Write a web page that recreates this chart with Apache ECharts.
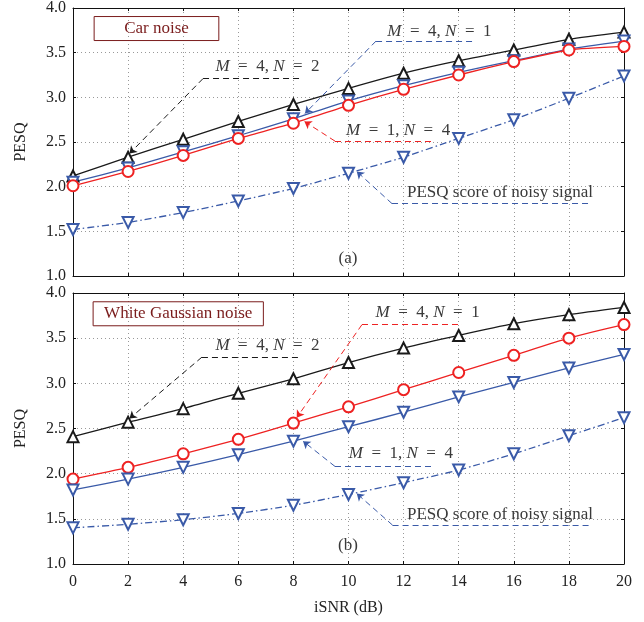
<!DOCTYPE html>
<html>
<head>
<meta charset="utf-8">
<script src="https://cdn.jsdelivr.net/npm/echarts@6/dist/echarts.min.js"></script>
<style>
  html, body { margin: 0; padding: 0; background: #fff; }
  #chart { width: 644px; height: 622px; }
</style>
</head>
<body>
<div id="chart"></div>
<script>
// iSNR values (dB)
const snr = [0, 2, 4, 6, 8, 10, 12, 14, 16, 18, 20];

// (a) car noise
const carM4N2 = [2.12, 2.33, 2.53, 2.73, 2.92, 3.10, 3.27, 3.41, 3.53, 3.65, 3.73];
const carM4N1 = [2.05, 2.21, 2.39, 2.57, 2.76, 2.96, 3.13, 3.28, 3.41, 3.54, 3.63];
const carM1N4 = [2.01, 2.17, 2.35, 2.54, 2.71, 2.91, 3.09, 3.25, 3.40, 3.53, 3.57];
const carNoisy = [1.52, 1.60, 1.71, 1.84, 1.98, 2.15, 2.33, 2.54, 2.75, 2.99, 3.24];

// (b) white Gaussian noise
const wgnM4N2 = [2.41, 2.57, 2.72, 2.89, 3.05, 3.23, 3.39, 3.53, 3.66, 3.76, 3.84];
const wgnM4N1 = [1.94, 2.07, 2.22, 2.38, 2.56, 2.74, 2.93, 3.12, 3.31, 3.50, 3.65];
const wgnM1N4 = [1.82, 1.94, 2.07, 2.21, 2.36, 2.52, 2.68, 2.85, 3.01, 3.17, 3.32];
const wgnNoisy = [1.40, 1.44, 1.49, 1.56, 1.65, 1.77, 1.90, 2.04, 2.22, 2.42, 2.62];

const xTicks = [0, 2, 4, 6, 8, 10, 12, 14, 16, 18, 20];
const yTicks = [1.0, 1.5, 2.0, 2.5, 3.0, 3.5, 4.0];

const BLACK = '#1a1a1a';
const RED = '#ee2222';
const BLUE = '#3a5aa8';
const TEXT = '#3a3a3a';
const BOX = '#7a1c1c';
const FONT = 'Liberation Serif';

const chart = echarts.init(document.getElementById('chart'));

function pairs(ys) {
    return snr.map(function (x, i) { return [x, ys[i]]; });
}

function mathLabel(m, n) {
    return '{i|M}\u2002=\u2002' + m + ', {i|N}\u2002=\u2002' + n;
}

// leader line: tip (near curve) -> elbow -> end, text above the horizontal part
function leader(color, tip, elbow, end, textPos, text) {
    return {
        lines: [
            [{ coord: elbow, symbol: 'none' }, { coord: tip, symbol: 'arrow' }],
            [{ coord: elbow, symbol: 'none' }, { coord: end, symbol: 'none' }]
        ],
        color: color,
        point: {
            coord: textPos,
            label: {
                show: true,
                position: 'inside',
                formatter: text,
                color: TEXT,
                fontFamily: FONT,
                fontSize: 17,
                rich: { i: { fontStyle: 'italic', fontFamily: FONT, fontSize: 17, color: TEXT } }
            }
        }
    };
}

function boxLabel(coord, text, padX) {
    return {
        coord: coord,
        label: {
            show: true,
            position: 'inside',
            formatter: text,
            color: BOX,
            fontFamily: FONT,
            fontSize: 17,
            borderColor: BOX,
            borderWidth: 1,
            padding: [4, padX, 3, padX]
        }
    };
}

function plainLabel(coord, text) {
    return {
        coord: coord,
        label: {
            show: true,
            position: 'inside',
            formatter: text,
            color: TEXT,
            fontFamily: FONT,
            fontSize: 17
        }
    };
}

function curve(g, name, ys, color, symbol, rotate, dash, ann, extraPoints) {
    const s = {
        name: name,
        type: 'line',
        xAxisIndex: g * 2,
        yAxisIndex: g * 2,
        data: pairs(ys),
        smooth: 0.2,
        symbol: symbol,
        symbolRotate: rotate,
        symbolSize: 11,
        z: 3,
        lineStyle: { color: color, width: 1.3, type: dash },
        itemStyle: { color: color, borderColor: color, borderWidth: 0.9 },
        silent: true
    };
    const lines = [];
    const points = [];
    if (ann) {
        ann.lines.forEach(function (l) { lines.push(l); });
        points.push(ann.point);
    }
    (extraPoints || []).forEach(function (p) { points.push(p); });
    if (lines.length) {
        s.markLine = {
            silent: true,
            symbolSize: 7,
            label: { show: false },
            lineStyle: { color: ann.color, type: [6, 4], width: 1 },
            data: lines
        };
    }
    if (points.length) {
        s.markPoint = {
            silent: true,
            symbol: 'circle',
            symbolSize: 0,
            data: points
        };
    }
    return s;
}

function xAxes(g) {
    const base = {
        type: 'value', gridIndex: g, min: 0, max: 20, interval: 2,
        axisLine: { show: true, onZero: false, lineStyle: { color: '#111', width: 1 } },
        axisTick: { show: true, inside: true, length: 3, lineStyle: { color: '#111' } }
    };
    const bottom = Object.assign({}, base, {
        position: 'bottom',
        splitLine: { show: true, lineStyle: { color: '#999', type: [1, 3], width: 1 } },
        axisLabel: { show: g === 1, color: '#222', fontFamily: FONT, fontSize: 16, margin: 10 },
        name: g === 1 ? 'iSNR (dB)' : '',
        nameLocation: 'middle',
        nameGap: 36,
        nameTextStyle: { color: '#222', fontFamily: FONT, fontSize: 16 }
    });
    const top = Object.assign({}, base, {
        position: 'top',
        splitLine: { show: false },
        axisLabel: { show: false }
    });
    return [bottom, top];
}

function yAxes(g) {
    const base = {
        type: 'value', gridIndex: g, min: 1, max: 4, interval: 0.5,
        axisLine: { show: true, onZero: false, lineStyle: { color: '#111', width: 1 } },
        axisTick: { show: true, inside: true, length: 3, lineStyle: { color: '#111' } }
    };
    const left = Object.assign({}, base, {
        position: 'left',
        splitLine: { show: true, lineStyle: { color: '#999', type: [1, 3], width: 1 } },
        axisLabel: {
            color: '#222', fontFamily: FONT, fontSize: 16, margin: 7,
            formatter: function (v) { return v.toFixed(1); }
        },
        name: 'PESQ',
        nameLocation: 'middle',
        nameGap: 44,
        nameRotate: 90,
        nameTextStyle: { color: '#222', fontFamily: FONT, fontSize: 16 }
    });
    const right = Object.assign({}, base, {
        position: 'right',
        splitLine: { show: false },
        axisLabel: { show: false }
    });
    return [left, right];
}

const series = [
    // (a) car noise
    curve(0, 'M=4,N=2', carM4N2, BLACK, 'emptyTriangle', 0, 'solid',
        leader(BLACK, [2.05, 2.37], [4.72, 3.21], [8.24, 3.21], [7.06, 3.35], mathLabel(4, 2)),
        [boxLabel([3.03, 3.77], 'Car noise', 30), plainLabel([9.98, 1.2], '(a)')]),
    curve(0, 'M=4,N=1', carM4N1, BLUE, 'emptyTriangle', 180, 'solid',
        leader(BLUE, [8.42, 2.82], [11.0, 3.63], [14.52, 3.63], [13.3, 3.74], mathLabel(4, 1))),
    curve(0, 'M=1,N=4', carM1N4, RED, 'emptyCircle', 0, 'solid',
        leader(RED, [8.4, 2.73], [9.51, 2.51], [13.07, 2.51], [11.8, 2.63], mathLabel(1, 4))),
    curve(0, 'PESQ score of noisy signal', carNoisy, BLUE, 'emptyTriangle', 180, [7, 3, 1.5, 3],
        leader(BLUE, [10.3, 2.17], [11.58, 1.81], [18.77, 1.81], [15.5, 1.93], 'PESQ score of noisy signal')),

    // (b) white Gaussian noise
    curve(1, 'M=4,N=2', wgnM4N2, BLACK, 'emptyTriangle', 0, 'solid',
        leader(BLACK, [2.05, 2.61], [4.68, 3.29], [8.24, 3.29], [7.06, 3.42], mathLabel(4, 2)),
        [boxLabel([3.82, 3.77], 'White Gaussian noise', 11), plainLabel([9.98, 1.2], '(b)')]),
    curve(1, 'M=4,N=1', wgnM4N1, RED, 'emptyCircle', 0, 'solid',
        leader(RED, [8.12, 2.62], [10.49, 3.65], [14.12, 3.65], [12.87, 3.78], mathLabel(4, 1))),
    curve(1, 'M=1,N=4', wgnM1N4, BLUE, 'emptyTriangle', 180, 'solid',
        leader(BLUE, [8.35, 2.36], [9.51, 2.08], [13.07, 2.08], [11.9, 2.22], mathLabel(1, 4))),
    curve(1, 'PESQ score of noisy signal', wgnNoisy, BLUE, 'emptyTriangle', 180, [7, 3, 1.5, 3],
        leader(BLUE, [10.3, 1.78], [11.6, 1.43], [18.77, 1.43], [15.5, 1.55], 'PESQ score of noisy signal'))
];

const option = {
    animation: false,
    backgroundColor: '#fff',
    textStyle: { fontFamily: FONT },
    grid: [
        { left: 73, top: 5, width: 551, height: 271 },
        { left: 73, top: 293, width: 551, height: 271 }
    ],
    xAxis: xAxes(0).concat(xAxes(1)),
    yAxis: yAxes(0).concat(yAxes(1)),
    series: series
};

chart.setOption(option);

window.addEventListener('resize', function () {
    chart.resize();
});
</script>
</body>
</html>
